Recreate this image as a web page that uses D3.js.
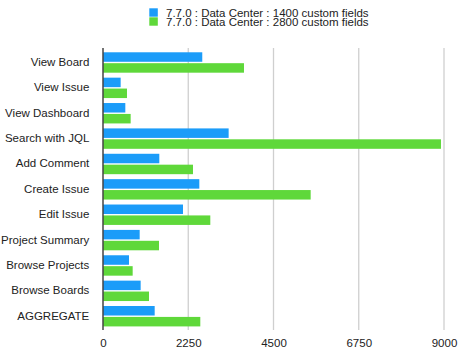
<!DOCTYPE html>
<html><head><meta charset="utf-8">
<script src="https://cdn.jsdelivr.net/npm/d3@7"></script>
<style>body{margin:0;background:#fff}svg{display:block;font-family:"Liberation Sans",Arial,Helvetica,sans-serif}</style>
</head><body><svg id="c" width="474" height="357"></svg>
<script>
const categories = ["View Board","View Issue","View Dashboard","Search with JQL","Add Comment","Create Issue","Edit Issue","Project Summary","Browse Projects","Browse Boards","AGGREGATE"];
const seriesNames = ["7.7.0 : Data Center : 1400 custom fields","7.7.0 : Data Center : 2800 custom fields"];
const values1400 = [2620,466,589,3316,1486,2542,2111,968,686,994,1364];
const values2800 = [3721,633,730,8920,2375,5481,2832,1478,783,1214,2568];
const tickValues = [0,2250,4500,6750,9000];
const colors = ["#1B9CF9","#5FD83A"];

(function(){
const svg = d3.select("#c");
const pLeft = 103, pRight = 444, pTop = 48, pBottom = 330;
const x = d3.scaleLinear().domain([0,9000]).range([pLeft,pRight]);
const y = d3.scaleBand().domain(categories).range([49.8,328.9]).paddingInner(0).paddingOuter(0);
const barH = 9.5, gap = 1.4;

svg.append("g").selectAll("line").data(tickValues.slice(1)).join("line")
  .attr("x1",d=>x(d)).attr("x2",d=>x(d)).attr("y1",pTop).attr("y2",pBottom)
  .attr("stroke","#cfcfcf").attr("stroke-width",1.3);

const data = categories.map((c,i)=>({c,v:[values1400[i],values2800[i]]}));
const g = svg.append("g").selectAll("g").data(data).join("g")
  .attr("transform",d=>`translate(0,${y(d.c)})`);
g.selectAll("rect").data(d=>d.v.map((v,k)=>({v,k}))).join("rect")
  .attr("x",x(0)).attr("y",d=>{const start=(y.bandwidth()-(2*barH+gap))/2; return start+d.k*(barH+gap);})
  .attr("width",d=>x(d.v)-x(0)).attr("height",barH).attr("fill",d=>colors[d.k]);

svg.append("line").attr("x1",x(0)).attr("x2",x(0)).attr("y1",pTop).attr("y2",pBottom)
  .attr("stroke","#444").attr("stroke-width",1.5);

svg.append("g").selectAll("text").data(data).join("text")
  .attr("x",89.3).attr("y",d=>y(d.c)+y.bandwidth()/2).attr("dy","0.3em")
  .attr("text-anchor","end").attr("font-size",11.5).attr("fill","#222").text(d=>d.c);

const xAxis = d3.axisBottom(x).tickValues(tickValues).tickSize(0).tickPadding(0).tickFormat(d3.format("d"));
const ax = svg.append("g").attr("transform",`translate(0,${pBottom+8.5})`).call(xAxis);
ax.select(".domain").remove();
ax.selectAll("text").attr("font-size",11.5).attr("fill","#222").attr("font-family","Liberation Sans, Arial, sans-serif");

const lg = svg.append("g").selectAll("g").data(seriesNames).join("g")
  .attr("transform",(d,i)=>`translate(149.3,${8.3+i*9})`);
lg.append("rect").attr("width",8.5).attr("height",8.4).attr("fill",(d,i)=>colors[i]);
lg.append("text").attr("x",16.7).attr("y",8.4).attr("font-size",11.5).attr("fill","#222").text(d=>d);
})();
</script></body></html>
